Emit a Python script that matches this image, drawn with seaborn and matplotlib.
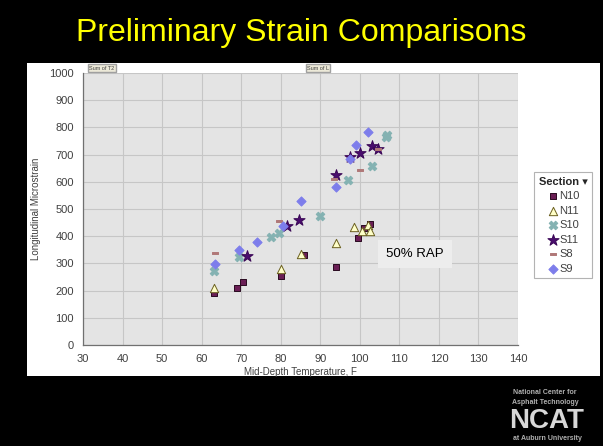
import numpy as np
import pandas as pd
import matplotlib
matplotlib.use("Agg")
import matplotlib.pyplot as plt
import seaborn as sns
from matplotlib.patches import Rectangle
from matplotlib.path import Path

# ---- data ----
sections = ["N10", "N11", "S10", "S11", "S8", "S9"]

n10_temp = [63, 69, 70.5, 80, 86, 94, 99.5, 102.5, 101]
n10_strain = [190, 210, 230, 255, 330, 285, 395, 445, 430]

n11_temp = [63, 80, 85, 94, 98.5, 100.5, 102, 102.5]
n11_strain = [210, 280, 335, 375, 432, 420, 440, 418]

s10_temp = [63, 69.5, 77.5, 79.5, 90, 97, 103, 106.5, 107]
s10_strain = [272, 322, 397, 413, 474, 605, 658, 765, 772]

s11_temp = [71.5, 81.5, 84.5, 94, 97.5, 100, 103, 104.5]
s11_strain = [327, 437, 458, 626, 690, 706, 730, 722]

s8_temp = [63.5, 79.5, 93.5, 100, 104.5]
s8_strain = [339, 457, 612, 645, 719]

s9_temp = [63.5, 69.5, 74, 80.5, 85, 94, 97.5, 99, 102]
s9_strain = [297, 349, 377, 437, 530, 582, 685, 735, 782]

x_ticks = list(range(30, 141, 10))
y_ticks = list(range(0, 1001, 100))

temps = [n10_temp, n11_temp, s10_temp, s11_temp, s8_temp, s9_temp]
strains = [n10_strain, n11_strain, s10_strain, s11_strain, s8_strain, s9_strain]
df = pd.concat([
    pd.DataFrame({"Temp": t, "Strain": s, "Section": name})
    for name, t, s in zip(sections, temps, strains)
], ignore_index=True)

# ---- styles ----
dash = Path([(-1, -0.35), (1, -0.35), (1, 0.35), (-1, 0.35), (-1, -0.35)],
            [Path.MOVETO, Path.LINETO, Path.LINETO, Path.LINETO, Path.CLOSEPOLY])
palette = {"N10": "#6A1E55", "N11": "#FFFFC8", "S10": "#84B2B2",
           "S11": "#4A0D6E", "S8": "#B07878", "S9": "#7D7DEB"}
markers = {"N10": "s", "N11": "^", "S10": "X", "S11": "*", "S8": dash, "S9": "D"}
sizes = {"N10": 22, "N11": 36, "S10": 38, "S11": 72, "S8": 20, "S9": 22}
edges = {"N10": "#2A0A20", "N11": "#6B6020", "S10": "#84B2B2",
         "S11": "#3A0656", "S8": "#B07878", "S9": "#7D7DEB"}

sns.set_style("white")
plt.rcParams["font.family"] = ["Liberation Sans", "DejaVu Sans"]

fig = plt.figure(figsize=(6.03, 4.46), dpi=100, facecolor="black")
W, H = 603, 446

# white chart panel
fig.add_artist(Rectangle((27 / W, 1 - 376 / H), (600 - 27) / W, (376 - 63) / H,
                         transform=fig.transFigure, facecolor="white",
                         edgecolor="none", zorder=-5))

fig.text(0.5, 1 - 33 / H, "Preliminary Strain Comparisons", color="#FFFF00",
         fontsize=23, ha="center", va="center")

ax = fig.add_axes([83 / W, 1 - 345 / H, 435 / W, 272 / H])
ax.set_facecolor("#E4E4E4")

for name in sections:
    sub = df[df["Section"] == name]
    sns.scatterplot(data=sub, x="Temp", y="Strain", ax=ax, color=palette[name],
                    marker=markers[name], s=sizes[name], edgecolor=edges[name],
                    linewidth=0.7, label=name, zorder=3)

ax.set_xlim(30, 140)
ax.set_ylim(0, 1000)
ax.set_xticks(x_ticks)
ax.set_yticks(y_ticks)
ax.grid(True, color="#C6C6C6", lw=0.8)
ax.set_axisbelow(True)
ax.tick_params(labelsize=8, colors="#404040", length=3, width=0.8, direction="out")
for side in ["top", "right"]:
    ax.spines[side].set_visible(False)
for side in ["left", "bottom"]:
    ax.spines[side].set_color("#707070")
    ax.spines[side].set_linewidth(0.9)
ax.set_xlabel("Mid-Depth Temperature, F", fontsize=7, color="#404040", labelpad=2)
ax.set_ylabel("Longitudinal Microstrain", fontsize=7, color="#404040", labelpad=6)

leg = ax.legend(title="Section \u25be", loc="upper left", bbox_to_anchor=(1.025, 0.655),
                fontsize=8, title_fontproperties={"weight": "bold", "size": 8},
                frameon=True, fancybox=False, edgecolor="#A0A0A0",
                handletextpad=0.1, borderpad=0.4, labelspacing=0.4,
                handlelength=1.0, markerscale=1.0)
leg.get_frame().set_linewidth(0.8)
for t in leg.get_texts():
    t.set_color("#404040")

# pivot-table buttons
fig.text(102 / W, 1 - 68 / H, "Sum of T2", fontsize=4, ha="center", va="center",
         color="#404040", bbox=dict(facecolor="#ECE9D8", edgecolor="#A0A0A0", pad=1))
fig.text(318 / W, 1 - 68 / H, "Sum of L", fontsize=4, ha="center", va="center",
         color="#404040", bbox=dict(facecolor="#ECE9D8", edgecolor="#A0A0A0", pad=1))

fig.text(415 / W, 1 - 254 / H, "50% RAP", fontsize=9.5, ha="center", va="center",
         color="black", bbox=dict(facecolor="#EDEDED", edgecolor="none", pad=6))

# NCAT logo (approximation)
fig.text(545 / W, 1 - 392 / H, "National Center for", fontsize=5, weight="bold",
         color="#B0B0B0", ha="center", va="center")
fig.text(545 / W, 1 - 403 / H, "Asphalt Technology", fontsize=5, weight="bold",
         color="#B0B0B0", ha="center", va="center")
fig.text(547 / W, 1 - 421 / H, "NCAT", fontsize=20, weight="bold",
         color="#D8D8D8", ha="center", va="center")
fig.text(547 / W, 1 - 439 / H, "at Auburn University", fontsize=5, weight="bold",
         color="#B0B0B0", ha="center", va="center")

fig.savefig("out.png", dpi=100, facecolor="black")
